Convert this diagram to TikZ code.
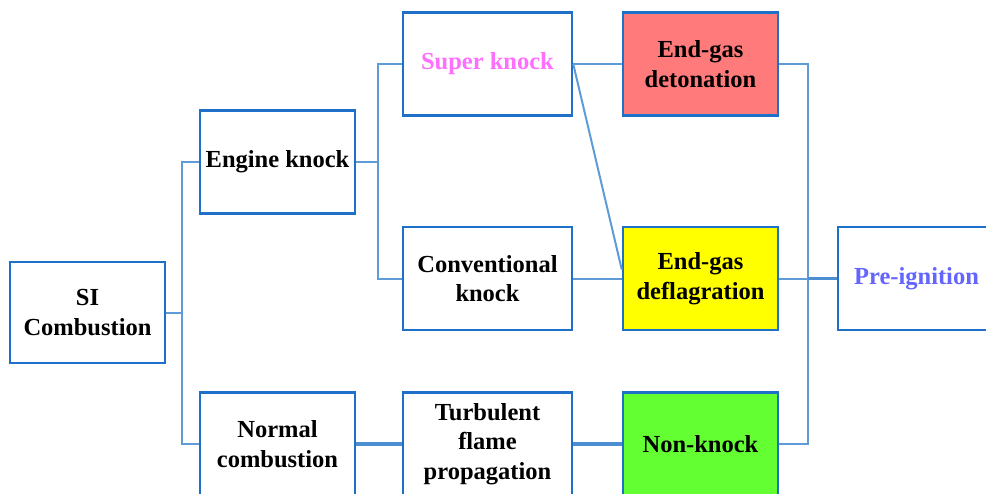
\documentclass[tikz,border=0pt]{standalone}
\usepackage{fontspec}
\setmainfont{Liberation Serif}
\usepackage{xcolor}
\usetikzlibrary{positioning}
\definecolor{boxblue}{RGB}{30,112,200}
\definecolor{lineblue}{RGB}{95,155,215}
\definecolor{detred}{RGB}{255,122,122}
\definecolor{defyellow}{RGB}{255,255,0}
\definecolor{nongreen}{RGB}{100,255,50}
\definecolor{superpink}{RGB}{255,110,255}
\definecolor{preblue}{RGB}{100,100,255}

\begin{document}
\begin{tikzpicture}[
  x=1pt, y=-1pt,
  every node/.style={font=\fontsize{24.5}{29.5}\selectfont\bfseries},
  box/.style={draw=boxblue, line width=2.5pt, fill=white, minimum width=155pt, minimum height=103pt, align=center, inner sep=0pt},
  widebox/.style={box, minimum width=169pt},
  link/.style={draw=lineblue, line width=2pt},
  bus/.style={draw=lineblue!70!boxblue, line width=3.5pt}
]
\clip (0,0) rectangle (986,493);
\useasboundingbox (0,0) rectangle (986,493);

\node[box, minimum height=101pt] (si) at (87.5,312.5) {SI\\Combustion};
\node[box] (ek) at (277.5,162) {Engine knock};
\node[box] (nc) at (277.5,444) {Normal\\combustion};
\node[widebox] (sk) at (487.5,64) {\textcolor{superpink}{Super knock}};
\node[widebox] (ck) at (487.5,278.5) {Conventional\\knock};
\node[widebox] (tf) at (487.5,444) {Turbulent\\flame\\propagation};
\node[box, fill=detred] (dt) at (700.5,64) {End-gas\\detonation};
\node[box, fill=defyellow] (df) at (700.5,278.5) {End-gas\\deflagration};
\node[box, fill=nongreen] (nk) at (700.5,444) {Non-knock};
\node[box, minimum width=157pt] (pi) at (916.5,278.5) {\textcolor{preblue}{Pre-ignition}};

\coordinate (j1) at (182,312.5);
\coordinate (j2) at (378,162);
\coordinate (j3) at (808,278.5);

\draw[link] (si.east) -- (j1);
\draw[link] (ek.west) -| (j1) |- (nc.west);
\draw[link] (ek.east) -- (j2);
\draw[link] (sk.west) -| (j2) |- (ck.west);
\draw[link] (sk.east) -- (dt.west);
\draw[link] (sk.east) -- ([yshift=9pt]df.west);
\draw[link] (ck.east) -- (df.west);
\draw[bus] (nc.east) -- (tf.west);
\draw[bus] (tf.east) -- (nk.west);
\draw[link] (dt.east) -| (j3) |- (nk.east);
\draw[link] (df.east) -- (j3);
\draw[bus] (j3) -- (pi.west);
\end{tikzpicture}
\end{document}
